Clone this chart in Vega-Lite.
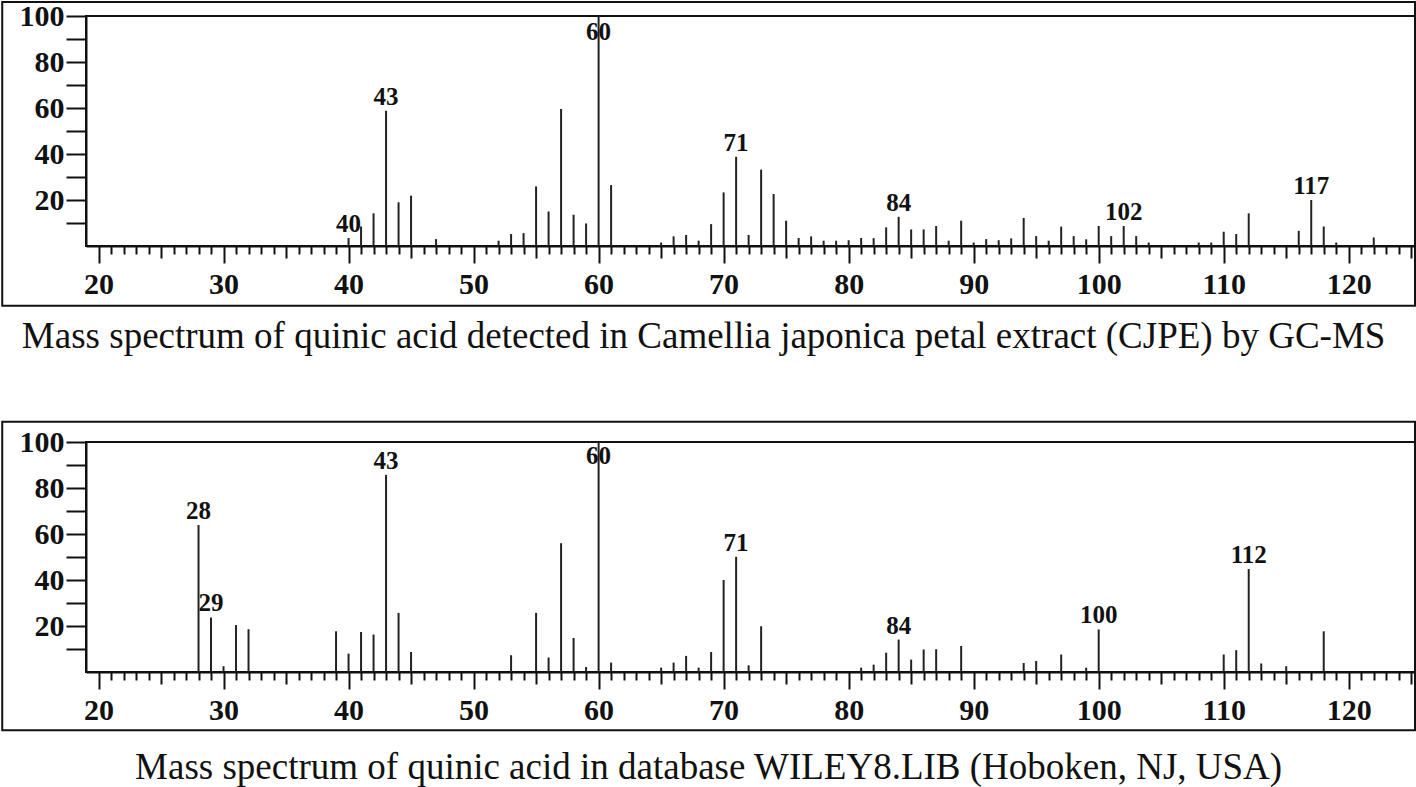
{
  "$schema": "https://vega.github.io/schema/vega-lite/v6.json",
  "padding": {"left": 0, "top": -1, "right": 1, "bottom": 0},
  "background": "white",
  "spacing": 63,
  "config": {
    "view": {"stroke": "#111", "strokeWidth": 2},
    "font": "Liberation Serif",
    "axis": {
      "grid": false,
      "title": null,
      "domainColor": "#111",
      "domainWidth": 2,
      "tickColor": "#111",
      "tickWidth": 2,
      "labelFont": "Liberation Serif",
      "labelFontWeight": "bold",
      "labelFontSize": 30,
      "labelColor": "#111",
      "labelOverlap": false,
      "labelFlush": false,
      "labelBound": false
    },
    "title": {"font": "Liberation Serif", "fontSize": 37, "fontWeight": "normal", "color": "#111", "orient": "bottom", "anchor": "middle", "frame": "bounds"},
    "text": {"font": "Liberation Serif", "fontWeight": "bold", "fontSize": 25, "color": "#111"}
  },
  "datasets": {
    "cjpe": [
      {"mz": 40, "intensity": 3.5}, {"mz": 41, "intensity": 8.5}, {"mz": 42, "intensity": 14.2}, {"mz": 43, "intensity": 58.8},
      {"mz": 44, "intensity": 19}, {"mz": 45, "intensity": 21.9}, {"mz": 47, "intensity": 3}, {"mz": 52, "intensity": 2.3},
      {"mz": 53, "intensity": 5.2}, {"mz": 54, "intensity": 5.6}, {"mz": 55, "intensity": 25.9}, {"mz": 56, "intensity": 15},
      {"mz": 57, "intensity": 59.6}, {"mz": 58, "intensity": 13.6}, {"mz": 59, "intensity": 9.8}, {"mz": 60, "intensity": 100},
      {"mz": 61, "intensity": 26.5}, {"mz": 65, "intensity": 1.5}, {"mz": 66, "intensity": 4.2}, {"mz": 67, "intensity": 4.8},
      {"mz": 68, "intensity": 2.3}, {"mz": 69, "intensity": 9.5}, {"mz": 70, "intensity": 23.3}, {"mz": 71, "intensity": 38.8},
      {"mz": 72, "intensity": 4.8}, {"mz": 73, "intensity": 33.2}, {"mz": 74, "intensity": 22.6}, {"mz": 75, "intensity": 11},
      {"mz": 76, "intensity": 3.5}, {"mz": 77, "intensity": 4.2}, {"mz": 78, "intensity": 2.3}, {"mz": 79, "intensity": 2.3},
      {"mz": 80, "intensity": 2.5}, {"mz": 81, "intensity": 3.5}, {"mz": 82, "intensity": 3.4}, {"mz": 83, "intensity": 8.1},
      {"mz": 84, "intensity": 12.7}, {"mz": 85, "intensity": 7.2}, {"mz": 86, "intensity": 7.2}, {"mz": 87, "intensity": 8.7},
      {"mz": 88, "intensity": 2.3}, {"mz": 89, "intensity": 11}, {"mz": 90, "intensity": 1.5}, {"mz": 91, "intensity": 3},
      {"mz": 92, "intensity": 2.5}, {"mz": 93, "intensity": 3.3}, {"mz": 94, "intensity": 12.2}, {"mz": 95, "intensity": 4.3},
      {"mz": 96, "intensity": 2.3}, {"mz": 97, "intensity": 8.4}, {"mz": 98, "intensity": 4.3}, {"mz": 99, "intensity": 2.9},
      {"mz": 100, "intensity": 8.7}, {"mz": 101, "intensity": 4.3}, {"mz": 102, "intensity": 8.7}, {"mz": 103, "intensity": 4.3},
      {"mz": 104, "intensity": 1.5}, {"mz": 108, "intensity": 1.5}, {"mz": 109, "intensity": 1.5}, {"mz": 110, "intensity": 6.2},
      {"mz": 111, "intensity": 5.2}, {"mz": 112, "intensity": 14.2}, {"mz": 116, "intensity": 6.6}, {"mz": 117, "intensity": 20},
      {"mz": 118, "intensity": 8.5}, {"mz": 119, "intensity": 1.5}, {"mz": 122, "intensity": 3.7}
    ],
    "wiley": [
      {"mz": 28, "intensity": 63.9}, {"mz": 29, "intensity": 23.7}, {"mz": 30, "intensity": 2.5}, {"mz": 31, "intensity": 20.4},
      {"mz": 32, "intensity": 18.6}, {"mz": 39, "intensity": 17.7}, {"mz": 40, "intensity": 8}, {"mz": 41, "intensity": 17.4},
      {"mz": 42, "intensity": 16.3}, {"mz": 43, "intensity": 85.7}, {"mz": 44, "intensity": 25.7}, {"mz": 45, "intensity": 8.7},
      {"mz": 53, "intensity": 7.3}, {"mz": 55, "intensity": 25.7}, {"mz": 56, "intensity": 6.3}, {"mz": 57, "intensity": 56},
      {"mz": 58, "intensity": 14.8}, {"mz": 59, "intensity": 2.2}, {"mz": 60, "intensity": 100}, {"mz": 61, "intensity": 4.1},
      {"mz": 65, "intensity": 1.9}, {"mz": 66, "intensity": 4.1}, {"mz": 67, "intensity": 7}, {"mz": 68, "intensity": 1.9},
      {"mz": 69, "intensity": 8.7}, {"mz": 70, "intensity": 40}, {"mz": 71, "intensity": 50.1}, {"mz": 72, "intensity": 2.9},
      {"mz": 73, "intensity": 19.9}, {"mz": 81, "intensity": 1.9}, {"mz": 82, "intensity": 3.2}, {"mz": 83, "intensity": 8.4},
      {"mz": 84, "intensity": 14.1}, {"mz": 85, "intensity": 5.4}, {"mz": 86, "intensity": 9.8}, {"mz": 87, "intensity": 9.9},
      {"mz": 89, "intensity": 11.3}, {"mz": 94, "intensity": 3.9}, {"mz": 95, "intensity": 4.8}, {"mz": 97, "intensity": 7.6},
      {"mz": 99, "intensity": 1.9}, {"mz": 100, "intensity": 18.5}, {"mz": 110, "intensity": 7.6}, {"mz": 111, "intensity": 9.5},
      {"mz": 112, "intensity": 44.8}, {"mz": 113, "intensity": 3.7}, {"mz": 115, "intensity": 2.5}, {"mz": 118, "intensity": 17.7}
    ]
  },
  "vconcat": [
    {
      "width": 1329,
      "height": 230,
      "title": {"text": "Mass spectrum of quinic acid detected in Camellia japonica petal extract (CJPE) by GC-MS", "offset": 12, "dx": -5},
      "data": {"name": "cjpe"},
      "layer": [
        {
          "data": {"values": [{}]},
          "mark": {"type": "rect", "fillOpacity": 0, "stroke": "#111", "strokeWidth": 2},
          "encoding": {
            "x": {"datum": 12.3, "type": "quantitative", "scale": {"domain": [19, 125.3], "nice": false, "zero": false}},
            "x2": {"datum": 125.3},
            "y": {"datum": -26, "type": "quantitative", "scale": {"domain": [0, 100], "nice": false}},
            "y2": {"datum": 106.1}
          }
        },
        {
          "mark": {"type": "rule", "strokeWidth": 2, "color": "#222"},
          "encoding": {
            "x": {
              "field": "mz", "type": "quantitative",
              "scale": {"domain": [19, 125.3], "nice": false, "zero": false},
              "axis": {
                "values": [20,21,22,23,24,25,26,27,28,29,30,31,32,33,34,35,36,37,38,39,40,41,42,43,44,45,46,47,48,49,50,51,52,53,54,55,56,57,58,59,60,61,62,63,64,65,66,67,68,69,70,71,72,73,74,75,76,77,78,79,80,81,82,83,84,85,86,87,88,89,90,91,92,93,94,95,96,97,98,99,100,101,102,103,104,105,106,107,108,109,110,111,112,113,114,115,116,117,118,119,120,121,122,123,124,125],
                "tickCount": 300,
                "format": "d",
                "labelExpr": "datum.value % 10 === 0 ? datum.label : ''",
                "tickSize": {"condition": [{"test": "datum.value % 10 === 0", "value": 17}, {"test": "datum.value % 5 === 0", "value": 12}], "value": 8},
                "labelPadding": 6
              }
            },
            "y": {
              "field": "intensity", "type": "quantitative",
              "scale": {"domain": [0, 100], "nice": false},
              "axis": {
                "values": [10,20,30,40,50,60,70,80,90,100],
                "tickCount": 30,
                "format": "d",
                "labelExpr": "datum.value % 20 === 0 ? datum.label : ''",
                "tickSize": 20,
                "labelPadding": 2
              }
            },
            "y2": {"datum": 0}
          }
        },
        {
          "transform": [{"filter": {"field": "mz", "oneOf": [40, 43, 71, 84, 102, 117]}}],
          "mark": {"type": "text", "baseline": "alphabetic", "dy": -6},
          "encoding": {
            "x": {"field": "mz", "type": "quantitative", "scale": {"domain": [19, 125.3], "nice": false, "zero": false}},
            "y": {"field": "intensity", "type": "quantitative", "scale": {"domain": [0, 100], "nice": false}},
            "text": {"field": "mz", "type": "quantitative", "format": "d"}
          }
        },
        {
          "transform": [{"filter": {"field": "mz", "oneOf": [60]}}],
          "mark": {"type": "text", "baseline": "top", "dy": 4},
          "encoding": {
            "x": {"field": "mz", "type": "quantitative", "scale": {"domain": [19, 125.3], "nice": false, "zero": false}},
            "y": {"field": "intensity", "type": "quantitative", "scale": {"domain": [0, 100], "nice": false}},
            "text": {"field": "mz", "type": "quantitative", "format": "d"}
          }
        }
      ]
    },
    {
      "width": 1329,
      "height": 230,
      "title": {"text": "Mass spectrum of quinic acid in database WILEY8.LIB (Hoboken, NJ, USA)", "offset": 19},
      "data": {"name": "wiley"},
      "layer": [
        {
          "data": {"values": [{}]},
          "mark": {"type": "rect", "fillOpacity": 0, "stroke": "#111", "strokeWidth": 2},
          "encoding": {
            "x": {"datum": 12.3, "type": "quantitative", "scale": {"domain": [19, 125.3], "nice": false, "zero": false}},
            "x2": {"datum": 125.3},
            "y": {"datum": -25.35, "type": "quantitative", "scale": {"domain": [0, 100], "nice": false}},
            "y2": {"datum": 108.83}
          }
        },
        {
          "mark": {"type": "rule", "strokeWidth": 2, "color": "#222"},
          "encoding": {
            "x": {
              "field": "mz", "type": "quantitative",
              "scale": {"domain": [19, 125.3], "nice": false, "zero": false},
              "axis": {
                "values": [20,21,22,23,24,25,26,27,28,29,30,31,32,33,34,35,36,37,38,39,40,41,42,43,44,45,46,47,48,49,50,51,52,53,54,55,56,57,58,59,60,61,62,63,64,65,66,67,68,69,70,71,72,73,74,75,76,77,78,79,80,81,82,83,84,85,86,87,88,89,90,91,92,93,94,95,96,97,98,99,100,101,102,103,104,105,106,107,108,109,110,111,112,113,114,115,116,117,118,119,120,121,122,123,124,125],
                "tickCount": 300,
                "format": "d",
                "labelExpr": "datum.value % 10 === 0 ? datum.label : ''",
                "tickSize": {"condition": [{"test": "datum.value % 10 === 0", "value": 17}, {"test": "datum.value % 5 === 0", "value": 12}], "value": 8},
                "labelPadding": 6
              }
            },
            "y": {
              "field": "intensity", "type": "quantitative",
              "scale": {"domain": [0, 100], "nice": false},
              "axis": {
                "values": [10,20,30,40,50,60,70,80,90,100],
                "tickCount": 30,
                "format": "d",
                "labelExpr": "datum.value % 20 === 0 ? datum.label : ''",
                "tickSize": 20,
                "labelPadding": 2
              }
            },
            "y2": {"datum": 0}
          }
        },
        {
          "transform": [{"filter": {"field": "mz", "oneOf": [28, 29, 43, 71, 84, 100, 112]}}],
          "mark": {"type": "text", "baseline": "alphabetic", "dy": -6},
          "encoding": {
            "x": {"field": "mz", "type": "quantitative", "scale": {"domain": [19, 125.3], "nice": false, "zero": false}},
            "y": {"field": "intensity", "type": "quantitative", "scale": {"domain": [0, 100], "nice": false}},
            "text": {"field": "mz", "type": "quantitative", "format": "d"}
          }
        },
        {
          "transform": [{"filter": {"field": "mz", "oneOf": [60]}}],
          "mark": {"type": "text", "baseline": "top", "dy": 2},
          "encoding": {
            "x": {"field": "mz", "type": "quantitative", "scale": {"domain": [19, 125.3], "nice": false, "zero": false}},
            "y": {"field": "intensity", "type": "quantitative", "scale": {"domain": [0, 100], "nice": false}},
            "text": {"field": "mz", "type": "quantitative", "format": "d"}
          }
        }
      ]
    }
  ]
}
